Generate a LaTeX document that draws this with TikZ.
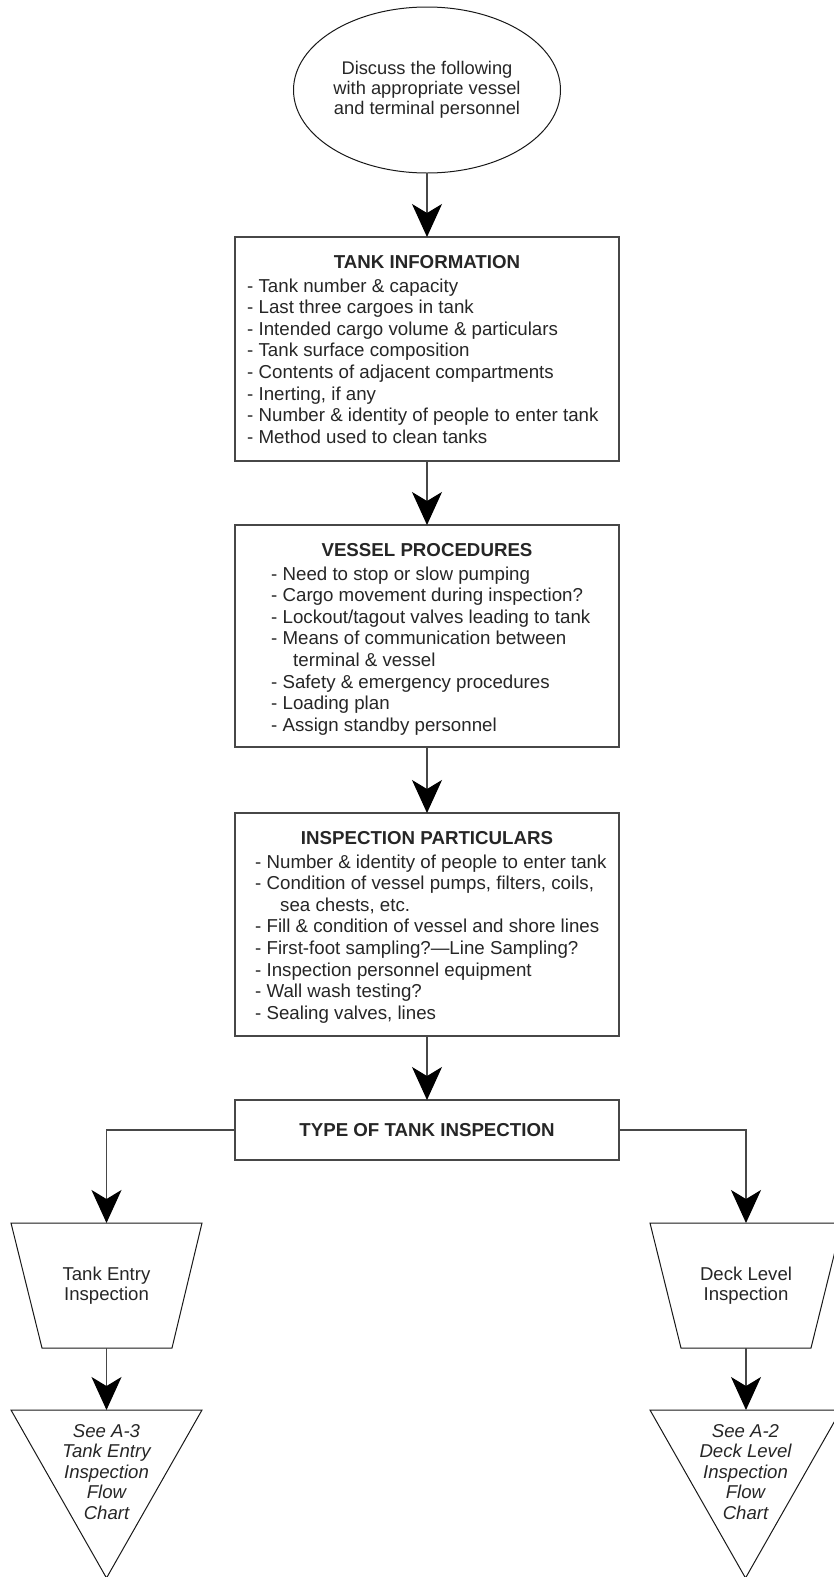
\documentclass[tikz,border=0pt]{standalone}
\usepackage{fontspec}
\setmainfont{Liberation Sans}
\usetikzlibrary{arrows.meta,shapes.geometric}

% left-aligned list whose base is the first row's baseline
\newcommand\bulletrows[1]{\begin{tabular}[t]{@{}l@{}}#1\end{tabular}}

\tikzset{
  txt/.style={font=\fontsize{18.7}{21.6}\selectfont, text=black!85, inner sep=0pt},
  title/.style={txt, font=\fontsize{18.7}{21.6}\selectfont\bfseries, anchor=base},
  rows/.style={txt, anchor=base west},
  box/.style={draw=black!72, line width=1.3pt, fill=white, inner sep=0pt, outer sep=0pt},
  flow/.style={draw=black!72, line width=1.2pt,
    -{Stealth[length=33pt, width=30pt, inset=9pt, color=black]}},
  outline/.style={draw=black!90, line width=1pt},
  shapetext/.style={align=center, inner sep=0pt,
    font=\fontsize{18.6}{20}\selectfont, text=black!85},
  refnote/.style={align=center, inner sep=0pt,
    font=\fontsize{18.6}{20.5}\selectfont\itshape, text=black!85},
}

\begin{document}
\begin{tikzpicture}[x=1pt, y=-1pt]
  \useasboundingbox (0,0) rectangle (834,1577);
  \clip (0,0) rectangle (834,1577);

  % start oval
  \node[outline, ellipse, minimum width=267pt, minimum height=166pt, inner sep=0pt,
        outer sep=0pt, align=center, font=\fontsize{18.3}{20}\selectfont, text=black!85]
        (start) at (427,90)
        {Discuss the following\\with appropriate vessel\\and terminal personnel};

  % tank information
  \node[box, minimum width=384pt, minimum height=224pt] (info) at (427,349) {};
  \node[title] (infoT) at (427,268) {TANK INFORMATION};
  \node[rows] (infoL) at (247,292) {\bulletrows{%
    - Tank number \& capacity\\
    - Last three cargoes in tank\\
    - Intended cargo volume \& particulars\\
    - Tank surface composition\\
    - Contents of adjacent compartments\\
    - Inerting, if any\\
    - Number \& identity of people to enter tank\\
    - Method used to clean tanks}};

  % vessel procedures
  \node[box, minimum width=384pt, minimum height=222pt] (vessel) at (427,636) {};
  \node[title] (vesselT) at (427,556) {VESSEL PROCEDURES};
  \node[rows] (vesselL) at (271,580) {\bulletrows{%
    - Need to stop or slow pumping\\
    - Cargo movement during inspection?\\
    - Lockout/tagout valves leading to tank\\
    - Means of communication between\\
    \hspace*{22pt}terminal \& vessel\\
    - Safety \& emergency procedures\\
    - Loading plan\\
    - Assign standby personnel}};

  % inspection particulars
  \node[box, minimum width=384pt, minimum height=223pt] (insp) at (427,924.5) {};
  \node[title] (inspT) at (427,844) {INSPECTION PARTICULARS};
  \node[rows] (inspL) at (255,868) {\bulletrows{%
    - Number \& identity of people to enter tank\\
    - Condition of vessel pumps, filters, coils,\\
    \hspace*{25pt}sea chests, etc.\\
    - Fill \& condition of vessel and shore lines\\
    - First-foot sampling?—Line Sampling?\\
    - Inspection personnel equipment\\
    - Wall wash testing?\\
    - Sealing valves, lines}};

  % inspection type
  \node[box, minimum width=384pt, minimum height=60pt, txt,
        font=\fontsize{18.7}{21.6}\selectfont\bfseries] (type) at (427,1130)
        {TYPE OF TANK INSPECTION};

  % the two inspection branches (trapezoids)
  \draw[outline] (11,1223) -- (202,1223) -- (172,1348) -- (42,1348) -- cycle;
  \draw[outline] (650,1223) -- (842,1223) -- (811,1348) -- (681,1348) -- cycle;
  \coordinate (entryIn) at (106.5,1223);
  \coordinate (entryOut) at (106.5,1348);
  \coordinate (deckIn) at (746,1223);
  \coordinate (deckOut) at (746,1348);
  \node[shapetext] (entry) at (106.5,1285.5) {Tank Entry\\Inspection};
  \node[shapetext] (deck) at (746,1285.5) {Deck Level\\Inspection};

  % off-page references (downward triangles)
  \draw[outline] (11,1410) -- (202,1410) -- (106.5,1578) -- cycle;
  \draw[outline] (650,1410) -- (841,1410) -- (745.5,1578) -- cycle;
  \coordinate (refA3) at (106.5,1410);
  \coordinate (refA2) at (746,1410);
  \node[refnote] (refA3T) at (106.5,1472)
        {See A-3\\Tank Entry\\Inspection\\Flow\\Chart};
  \node[refnote] (refA2T) at (745.5,1472)
        {See A-2\\Deck Level\\Inspection\\Flow\\Chart};

  % connectors
  \draw[flow] (start.south) -- (info.north);
  \draw[flow] (info.south) -- (vessel.north);
  \draw[flow] (vessel.south) -- (insp.north);
  \draw[flow] (insp.south) -- (type.north);
  \draw[flow] (type.west) -| (entryIn);
  \draw[flow] (type.east) -| (deckIn);
  \draw[flow] (entryOut) -- (refA3);
  \draw[flow] (deckOut) -- (refA2);
\end{tikzpicture}
\end{document}
